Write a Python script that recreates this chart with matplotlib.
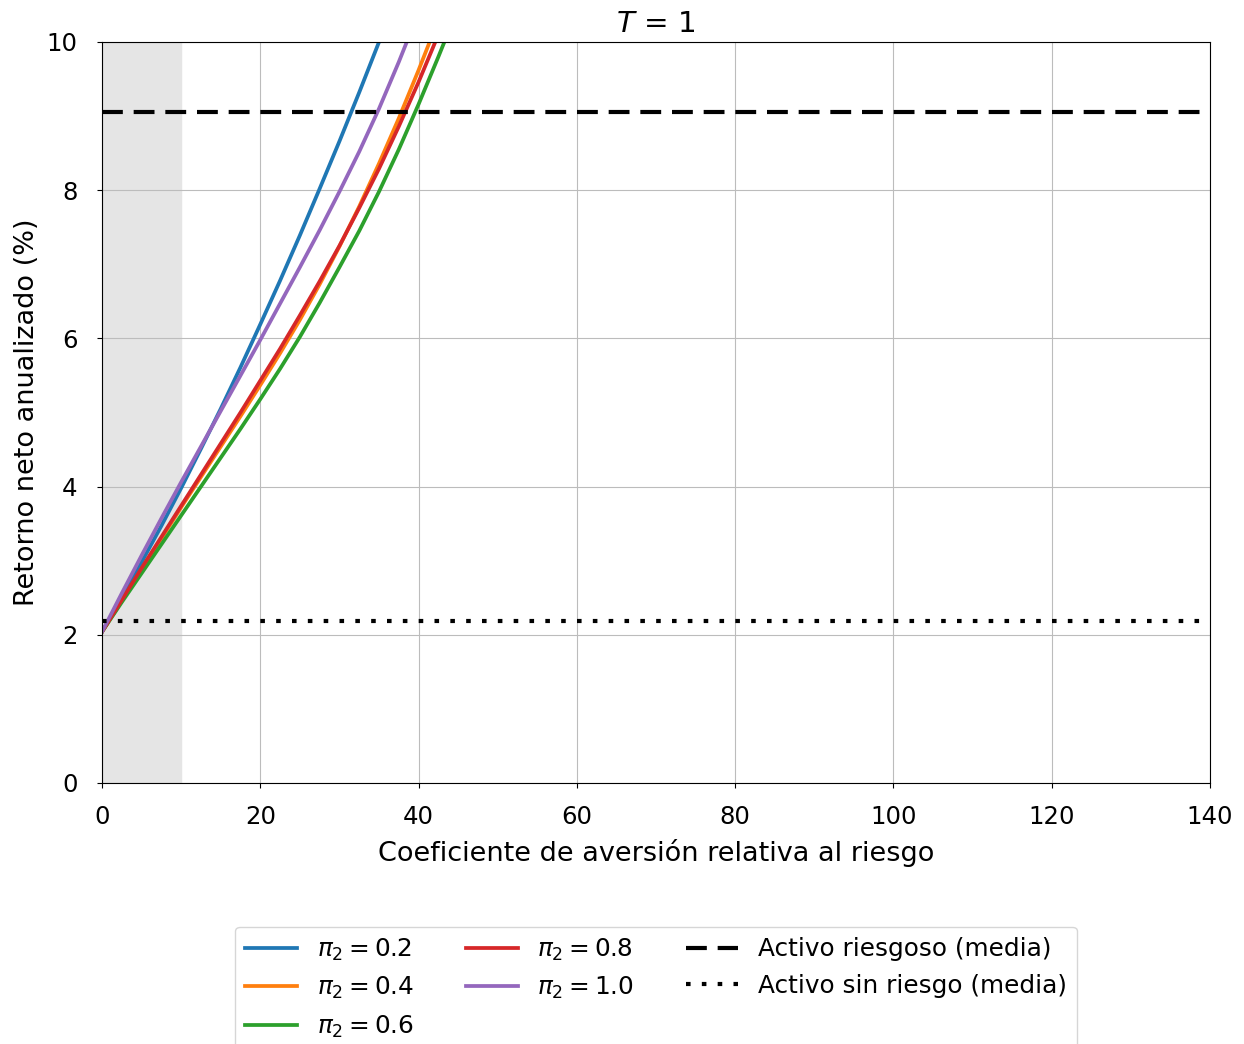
import matplotlib
matplotlib.use("Agg")
import matplotlib.pyplot as plt

# coeficiente de aversion relativa al riesgo
gamma = [0, 2.5, 5, 7.5, 10, 12.5, 15, 17.5, 20, 22.5,
         25, 27.5, 30, 32.5, 35, 37.5, 40, 42.5, 45]

# retorno neto anualizado (%) por pi_2
ret_02 = [2.04, 2.50, 2.98, 3.47, 3.98, 4.51, 5.05, 5.61, 6.19, 6.78,
          7.39, 8.02, 8.66, 9.32, 10.0, 10.69, 11.40, 12.1, 12.8]
ret_04 = [2.04, 2.46, 2.88, 3.30, 3.72, 4.13, 4.54, 4.95, 5.37, 5.80,
          6.25, 6.73, 7.24, 7.78, 8.36, 8.97, 9.62, 10.3, 11.0]
ret_06 = [2.04, 2.44, 2.83, 3.22, 3.61, 4.00, 4.39, 4.78, 5.18, 5.59,
          6.02, 6.48, 6.96, 7.45, 7.98, 8.55, 9.16, 9.80, 10.46]
ret_08 = [2.04, 2.47, 2.90, 3.32, 3.74, 4.16, 4.58, 5.00, 5.43, 5.86,
          6.31, 6.77, 7.25, 7.76, 8.29, 8.86, 9.46, 10.1, 10.76]
ret_10 = [2.04, 2.56, 3.07, 3.57, 4.06, 4.54, 5.02, 5.50, 5.98, 6.47,
          6.96, 7.46, 7.98, 8.52, 9.10, 9.73, 10.4, 11.1, 11.8]

series = [
    (r"$\pi_2 = 0.2$", ret_02, "#1f77b4"),
    (r"$\pi_2 = 0.4$", ret_04, "#ff7f0e"),
    (r"$\pi_2 = 0.6$", ret_06, "#2ca02c"),
    (r"$\pi_2 = 0.8$", ret_08, "#d62728"),
    (r"$\pi_2 = 1.0$", ret_10, "#9467bd"),
]

media_riesgoso = 9.06
media_sin_riesgo = 2.19
zona_gris = (0, 10)

plt.rcParams["font.size"] = 17.6

fig = plt.figure(figsize=(12.44, 10.44), dpi=100)
ax = fig.add_axes([0.082, 0.25, 0.8907, 0.7098])

ax.axvspan(zona_gris[0], zona_gris[1], color="#e5e5e5", zorder=0)

for label, vals, color in series:
    ax.plot(gamma, vals, color=color, lw=2.7, label=label)

ax.axhline(media_riesgoso, color="black", ls="--", lw=3, dashes=(5, 2.6),
           label="Activo riesgoso (media)")
ax.axhline(media_sin_riesgo, color="black", ls=":", lw=3, dashes=(1.1, 2.7),
           label="Activo sin riesgo (media)")

ax.set_xlim(0, 140)
ax.set_ylim(0, 10)
ax.set_xticks(range(0, 141, 20))
ax.set_yticks(range(0, 11, 2))
ax.tick_params(axis="x", pad=12)
ax.tick_params(axis="y", pad=14)
ax.grid(True, color="#bcbcbc", lw=0.8)
ax.set_axisbelow(True)

ax.set_xlabel("Coeficiente de aversión relativa al riesgo", fontsize=19.5,
              labelpad=7.5)
ax.set_ylabel("Retorno neto anualizado (%)", fontsize=19.5, labelpad=5)
ax.set_title(r"$T$ = 1", pad=7)

ax.legend(loc="upper center", bbox_to_anchor=(0.5, -0.177), ncol=3,
          fontsize=17.8, handlelength=2.1, columnspacing=2.1)

fig.savefig("out.png", dpi=100)
